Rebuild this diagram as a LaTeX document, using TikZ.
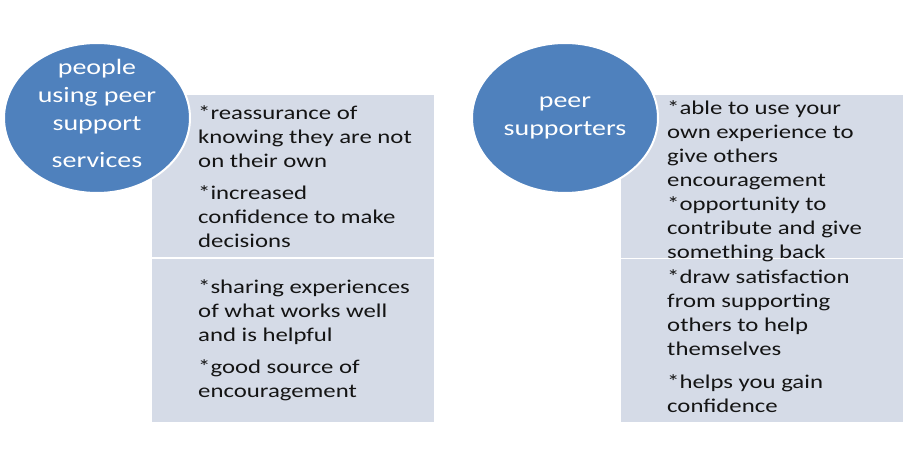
\documentclass[tikz,border=0pt]{standalone}
\usepackage{fontspec}
\setmainfont{Carlito}[FakeStretch=1.27]
\usetikzlibrary{positioning,shapes.geometric}
\definecolor{discblue}{HTML}{4F81BD}
\definecolor{panelgrey}{HTML}{D5DBE7}

\begin{document}
\begin{tikzpicture}[x=1pt, y=-1pt,
    panel/.style={rectangle, fill=panelgrey, draw=white, line width=1.5pt,
        minimum width=284pt, minimum height=164pt, inner sep=0pt},
    disc/.style={ellipse, fill=discblue, draw=white, line width=2pt,
        minimum width=186pt, minimum height=150pt, inner sep=0pt},
    disclabel/.style={align=center, inner sep=0pt, text=white,
        font=\fontsize{22}{28}\selectfont},
    item/.style={anchor=west, align=left, inner sep=0pt,
        font=\fontsize{19.5}{24}\selectfont, text=black!92}]
    \useasboundingbox (0, 0) rectangle (905, 454);
    % panels
    \node[panel] (ub1) at (293, 176) {};
    \node[panel] (ub2) at (293, 340.5) {};
    \node[panel] (sb1) at (762, 176.5) {};
    \node[panel] (sb2) at (762, 340.5) {};
    % discs
    \node[disc] (users) at (97, 118) {};
    \node[disc] (peers) at (565, 118) {};
    \node[disclabel] (userstext) at ([yshift=5pt]users.center) {people\\using peer\\support\\[9pt]services};
    \node[disclabel] (peerstext) at (peers.center) {peer\\supporters};
    % items
    \node[item] (u1) at (198, 177) {*reassurance of\\knowing they are not\\on their own\\[8pt]*increased\\confidence to make\\decisions};
    \node[item] (u2) at (198, 340) {*sharing experiences\\of what works well\\and is helpful\\[8pt]*good source of\\encouragement};
    \node[item] (s1) at (667, 181) {*able to use your\\own experience to\\give others\\encouragement\\*opportunity to\\contribute and give\\something back};
    \node[item] (s2) at (667, 341) {*draw satisfaction\\from supporting\\others to help\\themselves\\[9pt]*helps you gain\\confidence};
\end{tikzpicture}
\end{document}
